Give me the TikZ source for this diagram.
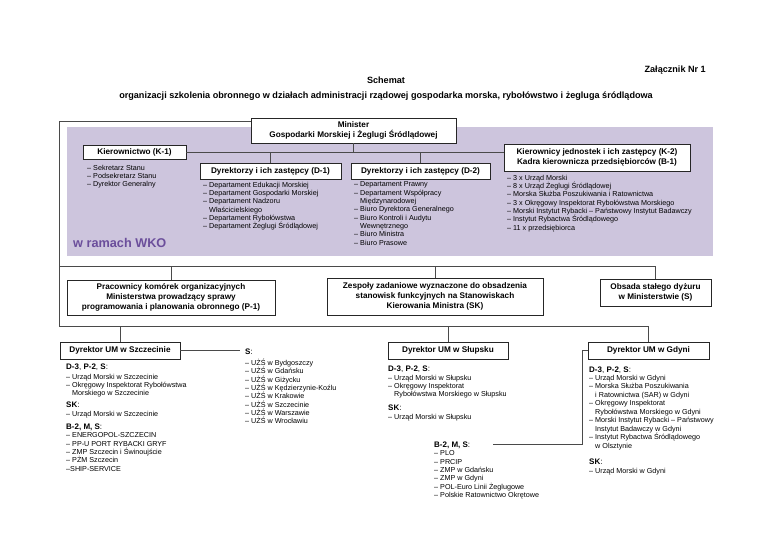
\documentclass[tikz,border=0pt]{standalone}
\usepackage{fontspec}
\setmainfont{Liberation Sans}
\definecolor{band}{HTML}{CDC5DD}
\definecolor{wko}{HTML}{6B4E9B}
\definecolor{lin}{HTML}{4A4A4A}
\newcommand{\ind}{\phantom{– }}
\begin{document}
\begin{tikzpicture}[x=1pt,y=-1pt,
  box/.style={draw=black!85, fill=white, line width=0.7pt, align=center, inner sep=0pt,
    font=\fontsize{8.2}{9.8}\selectfont\bfseries},
  lst/.style={anchor=north west, align=left, inner sep=0pt, font=\fontsize{7.2}{8.35}\selectfont},
  hdr/.style={anchor=west, inner sep=0pt, font=\fontsize{8}{9}\selectfont},
  conn/.style={draw=lin, line width=0.7pt},
  ttl/.style={font=\fontsize{9.1}{10}\selectfont\bfseries, inner sep=0pt}]
\useasboundingbox (0,0) rectangle (768,543);

% titles
\node[ttl, anchor=east] (zal) at (706,70) {Załącznik Nr 1};
\node[ttl] (sch) at (386,80) {Schemat};
\node[ttl] (sub) at (386,96) {organizacji szkolenia obronnego w działach administracji rządowej gospodarka morska, rybołówstwo i żegluga śródlądowa};

% purple band
\fill[band] (67,127) rectangle (713,256);
\node[anchor=west, inner sep=0pt, text=wko, font=\fontsize{12.7}{14}\selectfont\bfseries] (wkot) at (73,243) {w ramach WKO};

% top boxes
\node[box, minimum width=205pt, minimum height=25pt] (min) at (353.5,130.5) {Minister\\Gospodarki Morskiej i Żeglugi Śródlądowej};
\node[box, minimum width=103pt, minimum height=14pt] (k1) at (134.5,152) {Kierownictwo (K-1)};
\node[box, minimum width=186pt, minimum height=27pt] (k2) at (597,157.5) {Kierownicy jednostek i ich zastępcy (K-2)\\Kadra kierownicza przedsiębiorców (B-1)};
\node[box, minimum width=141pt, minimum height=16pt] (d1) at (270.5,171) {Dyrektorzy i ich zastępcy (D-1)};
\node[box, minimum width=139pt, minimum height=16pt] (d2) at (420.5,171) {Dyrektorzy i ich zastępcy (D-2)};

\draw[conn] (k1.east) -- (k1.east -| k2.west);
\draw[conn] (min.south) -- (min.south |- k1.east);
\draw[conn] (d1.north) -- (d1.north |- k1.east);
\draw[conn] (d2.north) -- (d2.north |- k1.east);

% lists inside band
\node[lst] (k1l) at (87,164.7) {– Sekretarz Stanu\\– Podsekretarz Stanu\\– Dyrektor Generalny};
\node[lst] (d1l) at (203,181.7) {– Departament Edukacji Morskiej\\– Departament Gospodarki Morskiej\\– Departament Nadzoru\\\ind Właścicielskiego\\– Departament Rybołówstwa\\– Departament Żeglugi Śródlądowej};
\node[lst] (d2l) at (354,181.7) {– Departament Prawny\\– Departament Współpracy\\\ind Międzynarodowej\\– Biuro Dyrektora Generalnego\\– Biuro Kontroli i Audytu\\\ind Wewnętrznego\\– Biuro Ministra\\– Biuro Prasowe};
\node[lst] (k2l) at (507,174.7) {– 3 x Urząd Morski\\– 8 x Urząd Żeglugi Śródlądowej\\– Morska Służba Poszukiwania i Ratownictwa\\– 3 x Okręgowy Inspektorat Rybołówstwa Morskiego\\– Morski Instytut Rybacki – Państwowy Instytut Badawczy\\– Instytut Rybactwa Śródlądowego\\– 11 x przedsiębiorca};

% middle boxes
\node[box, minimum width=208pt, minimum height=35pt] (p1) at (171,297.5) {Pracownicy komórek organizacyjnych\\Ministerstwa prowadzący sprawy\\programowania i planowania obronnego (P-1)};
\node[box, minimum width=216pt, minimum height=37pt] (sk) at (435,296.5) {Zespoły zadaniowe wyznaczone do obsadzenia\\stanowisk funkcyjnych na Stanowiskach\\Kierowania Ministra (SK)};
\node[box, minimum width=111pt, minimum height=27pt] (s) at (655.5,292.5) {Obsada stałego dyżuru\\w Ministerstwie (S)};

% bottom boxes
\node[box, minimum width=120pt, minimum height=17pt] (sz) at (120,350.5) {Dyrektor UM w Szczecinie};
\node[box, minimum width=120pt, minimum height=17pt] (sl) at (448,350.5) {Dyrektor UM w Słupsku};
\node[box, minimum width=121pt, minimum height=17pt] (gd) at (648.5,350.5) {Dyrektor UM w Gdyni};

% frame connectors
\coordinate (tl) at (59,121);
\coordinate (ml) at (59,266);
\coordinate (bl) at (59,326);
\draw[conn] (tl -| min.west) -- (tl) -- (bl) -- (bl -| gd.north) -- (gd.north);
\draw[conn] (ml) -- (ml -| s.north) -- (s.north);
\draw[conn] (p1.north) -- (p1.north |- ml);
\draw[conn] (sk.north) -- (sk.north |- ml);
\draw[conn] (sz.north) -- (sz.north |- bl);
\draw[conn] (sl.north) -- (sl.north |- bl);

% Szczecin
\node[hdr] (szh1) at (66,367) {\textbf{D-3}, \textbf{P-2}, \textbf{S}:};
\node[lst] (szl1) at (66,373.7) {– Urząd Morski w Szczecinie\\– Okręgowy Inspektorat Rybołówstwa\\\ind Morskiego w Szczecinie};
\node[hdr] (szh2) at (66,405) {\textbf{SK}:};
\node[lst] (szl2) at (66,410.7) {– Urząd Morski w Szczecinie};
\node[hdr] (szh3) at (66,427) {\textbf{B-2, M, S}:};
\node[lst] (szl3) at (66,432.7) {– ENERGOPOL-SZCZECIN\\– PP-U PORT RYBACKI GRYF\\– ZMP Szczecin i Świnoujście\\– PŻM Szczecin\\–SHIP-SERVICE};

% S list (UŻŚ)
\node[hdr] (ssh) at (245,352) {\textbf{S}:};
\node[lst] (ssl) at (245,358.7) {– UŻŚ w Bydgoszczy\\– UŻŚ w Gdańsku\\– UŻŚ w Giżycku\\– UŻŚ w Kędzierzynie-Koźlu\\– UŻŚ w Krakowie\\– UŻŚ w Szczecinie\\– UŻŚ w Warszawie\\– UŻŚ w Wrocławiu};
\draw[conn] (sz.east) -- ([xshift=-5pt]sz.east -| ssh.west);

% Slupsk
\node[hdr] (slh1) at (388,369) {\textbf{D-3}, \textbf{P-2}, \textbf{S}:};
\node[lst] (sll1) at (388,374.7) {– Urząd Morski w Słupsku\\– Okręgowy Inspektorat\\\ind Rybołówstwa Morskiego w Słupsku};
\node[hdr] (slh2) at (388,408) {\textbf{SK}:};
\node[lst] (sll2) at (388,413.7) {– Urząd Morski w Słupsku};

% B-2 Gdynia/Gdansk
\node[hdr] (b2h) at (434,445) {\textbf{B-2, M, S}:};
\node[lst] (b2l) at (434,450.7) {– PLO\\– PRCIP\\– ZMP w Gdańsku\\– ZMP w Gdyni\\– POL-Euro Linii Żeglugowe\\– Polskie Ratownictwo Okrętowe};
\coordinate (b2end) at (493,444);
\draw[conn] (gd.west) -- ++(-5,0) |- (b2end);

% Gdynia
\node[hdr] (gdh1) at (589,370) {\textbf{D-3}, \textbf{P-2}, \textbf{S}:};
\node[lst, font=\fontsize{7.2}{8.5}\selectfont] (gdl1) at (589,374.7) {– Urząd Morski w Gdyni\\– Morska Służba Poszukiwania\\\ind i Ratownictwa (SAR) w Gdyni\\– Okręgowy Inspektorat\\\ind Rybołówstwa Morskiego w Gdyni\\– Morski Instytut Rybacki – Państwowy\\\ind Instytut Badawczy w Gdyni\\– Instytut Rybactwa Śródlądowego\\\ind w Olsztynie};
\node[hdr] (gdh2) at (589,462) {\textbf{SK}:};
\node[lst] (gdl2) at (589,467.7) {– Urząd Morski w Gdyni};
\end{tikzpicture}
\end{document}
